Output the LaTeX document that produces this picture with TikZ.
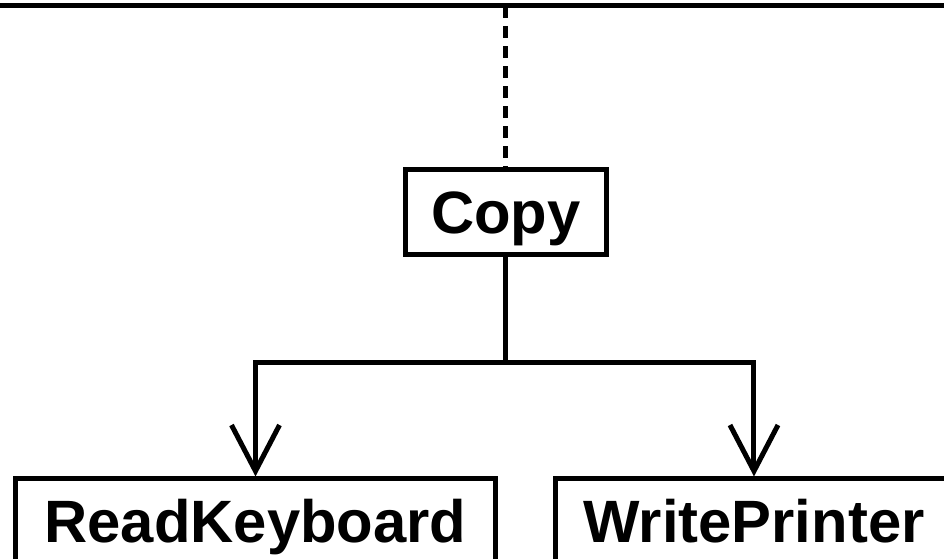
\documentclass[tikz,border=0pt]{standalone}
\usepackage{fontspec}
\setmainfont{Liberation Sans}
\usetikzlibrary{arrows.meta,calc}

\begin{document}
\begin{tikzpicture}[x=0.01cm, y=-0.01cm, line width=0.05cm,
    modulo/.style={draw, inner sep=0pt, text height=12.2pt, text depth=0pt,
        font=\fontsize{17}{20}\selectfont\bfseries},
    chamada/.style={-{Straight Barb[length=0.46cm, width=0.48cm]}},
    pontilhado/.style={dash pattern=on 0.12cm off 0.08cm}]

    % area da figura
    \useasboundingbox (0,0) rectangle (944,559);

    % barra superior
    \coordinate (barraE) at (0,6);
    \coordinate (barraD) at (944,6);
    \draw (barraE) -- (barraD);

    % modulos
    \node[modulo, minimum width=2.01cm, minimum height=0.84cm] (copy) at (506,212) {Copy};
    \node[modulo, minimum width=4.79cm, minimum height=0.84cm] (readkbd) at (255.5,521) {ReadKeyboard};
    \node[modulo, minimum width=3.96cm, minimum height=0.84cm] (writeprt) at (754,521) {WritePrinter};

    % ligacao com a barra (tracejada)
    \coordinate (topo) at (copy.north |- barraE);
    \draw[pontilhado] (topo) -- (copy.north);

    % chamadas de Copy
    \coordinate (garfo) at ($(copy.south)+(0,106)$);
    \draw (copy.south) -- (garfo);
    \draw[chamada] (garfo) -| (readkbd.north);
    \draw[chamada] (garfo) -| (writeprt.north);

\end{tikzpicture}
\end{document}
